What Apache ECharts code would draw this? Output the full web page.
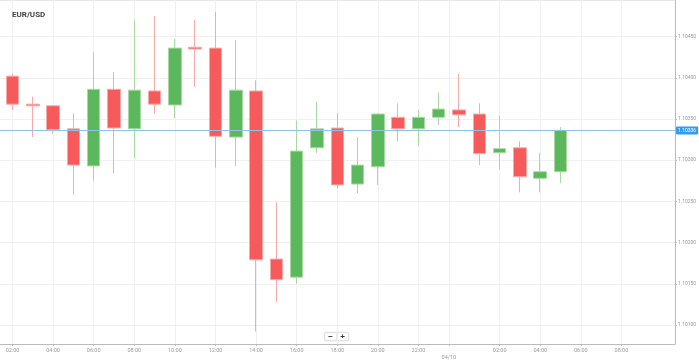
<!DOCTYPE html>
<html>
<head>
<meta charset="utf-8">
<script src="https://cdn.jsdelivr.net/npm/echarts@6/dist/echarts.min.js"></script>
<style>html,body{margin:0;padding:0;background:#fff;}#c{width:699px;height:363px;}</style>
</head>
<body>
<div id="c"></div>
<script>
// hours since 00:00 of 04/09 (24 = 00:00 of 04/10)
var hours  = [2,3,4,5,6,7,8,9,10,11,12,13,14,15,16,17,18,19,20,21,22,23,24,25,26,27,28,29];
var opens  = [1.10402,1.10368,1.10366,1.10338,1.10293,1.10386,1.10338,1.10384,1.10367,1.10437,1.10436,1.10328,1.10384,1.10180,1.10158,1.10315,1.10339,1.10271,1.10292,1.10352,1.10338,1.10352,1.10361,1.10356,1.10309,1.10315,1.10278,1.10286];
var closes = [1.10368,1.10366,1.10337,1.10294,1.10386,1.10339,1.10385,1.10368,1.10436,1.10435,1.10329,1.10385,1.10179,1.10155,1.10311,1.10338,1.10270,1.10294,1.10356,1.10338,1.10352,1.10362,1.10355,1.10308,1.10314,1.10280,1.10286,1.10336];
var lows   = [1.10361,1.10328,1.10332,1.10258,1.10275,1.10284,1.10303,1.10356,1.10351,1.10389,1.10291,1.10293,1.10092,1.10128,1.10150,1.10309,1.10266,1.10260,1.10270,1.10323,1.10317,1.10343,1.10340,1.10294,1.10289,1.10261,1.10261,1.10272];
var highs  = [1.10405,1.10377,1.10367,1.10357,1.10431,1.10407,1.10470,1.10475,1.10447,1.10470,1.10480,1.10446,1.10397,1.10249,1.10348,1.10371,1.10357,1.10328,1.10357,1.10369,1.10361,1.10382,1.10405,1.10369,1.10354,1.10323,1.10309,1.10340];
var xTickValues = [2,4,6,8,10,12,14,16,18,20,22,23.5,26,28,30,32];
var xTickLabels = ['02:00','04:00','06:00','08:00','10:00','12:00','14:00','16:00','18:00','20:00','22:00','04/10','02:00','04:00','06:00','08:00'];
var yTickValues = [1.101,1.1015,1.102,1.1025,1.103,1.1035,1.104,1.1045];
var currentPrice = 1.10336;
var title = 'EUR/USD';
var xMin = 1.384, xMax = 34.64;

var data = hours.map(function(h,i){ return [h, opens[i], closes[i], lows[i], highs[i]]; });

var chart = echarts.init(document.getElementById('c'));
chart.setOption({
  animation:false,
  backgroundColor:'#fff',
  title:{ text:title, left:7, top:6, textStyle:{ fontSize:8, fontWeight:'bold', color:'#444', fontFamily:'Roboto' } },
  grid:{ left:0, right:24, top:0, bottom:19, outerBoundsMode:'none', containLabel:false },
  xAxis:{
    type:'value', min:xMin, max:xMax,
    axisLine:{ show:true, lineStyle:{ color:'#bbb', width:1 } },
    axisTick:{ show:true, length:2, customValues:xTickValues, lineStyle:{ color:'#bbb' } },
    axisLabel:{
      customValues:xTickValues, margin:4, fontSize:5.5, color:'#999', fontFamily:'Roboto',
      formatter:function(v){
        var i = xTickValues.indexOf(v);
        var t = i >= 0 ? xTickLabels[i] : '';
        return v === 23.5 ? '{d|' + t + '}' : t;
      },
      rich:{ d:{ fontSize:5.5, color:'#999', fontFamily:'Roboto', padding:[7,0,0,0] } }
    },
    splitLine:{ show:true, lineStyle:{ color:'#f0f0f0', width:1 } }
  },
  yAxis:{
    type:'value', position:'right', min:1.100769, max:1.104944, scale:true,
    axisLine:{ show:true, lineStyle:{ color:'#bbb', width:1 } },
    axisTick:{ show:true, length:2, customValues:yTickValues, lineStyle:{ color:'#bbb' } },
    axisLabel:{ customValues:yTickValues, margin:3, fontSize:5, color:'#999', fontFamily:'Roboto',
      formatter:function(v){ return v.toFixed(5); } },
    splitLine:{ show:true, lineStyle:{ color:'#f0f0f0', width:1 } }
  },
  series:[{
    type:'candlestick',
    data:data,
    encode:{ x:0, y:[1,2,3,4] },
    barWidth:13,
    itemStyle:{
      color:'#5cb85c', color0:'#f65a5a',
      borderColor:'#a9d9a3', borderColor0:'#f9a9a9', borderWidth:1
    }
  },{
    type:'line',
    data:[[xMin, currentPrice],[xMax, currentPrice]],
    showSymbol:false, silent:true, z:3,
    lineStyle:{ color:'#8cc4ec', width:1 },
    endLabel:{ show:true, distance:1, formatter:function(){ return currentPrice.toFixed(5); },
      backgroundColor:'#2f9ef0', color:'#fff', fontSize:5, fontFamily:'Roboto', padding:[1.5,2], borderRadius:1 }
  }],
  graphic:[
    { type:'line', shape:{ x1:0, y1:0.5, x2:675, y2:0.5 }, style:{ stroke:'#e6e6e6', lineWidth:1 } },
    { type:'group', left:324, top:331, children:[
      { type:'rect', shape:{ x:0, y:0, width:24, height:8, r:1 }, style:{ fill:'#fff', stroke:'#e2e2e2', lineWidth:1, shadowBlur:2, shadowColor:'rgba(0,0,0,0.12)' } },
      { type:'line', shape:{ x1:12, y1:1, x2:12, y2:7 }, style:{ stroke:'#e6e6e6', lineWidth:1 } },
      { type:'text', x:6, y:4, style:{ text:'−', fontSize:8, fontWeight:'bold', fill:'#333', align:'center', verticalAlign:'middle' } },
      { type:'text', x:18, y:4, style:{ text:'+', fontSize:8, fontWeight:'bold', fill:'#333', align:'center', verticalAlign:'middle' } }
    ]}
  ]
});
</script>
</body>
</html>
